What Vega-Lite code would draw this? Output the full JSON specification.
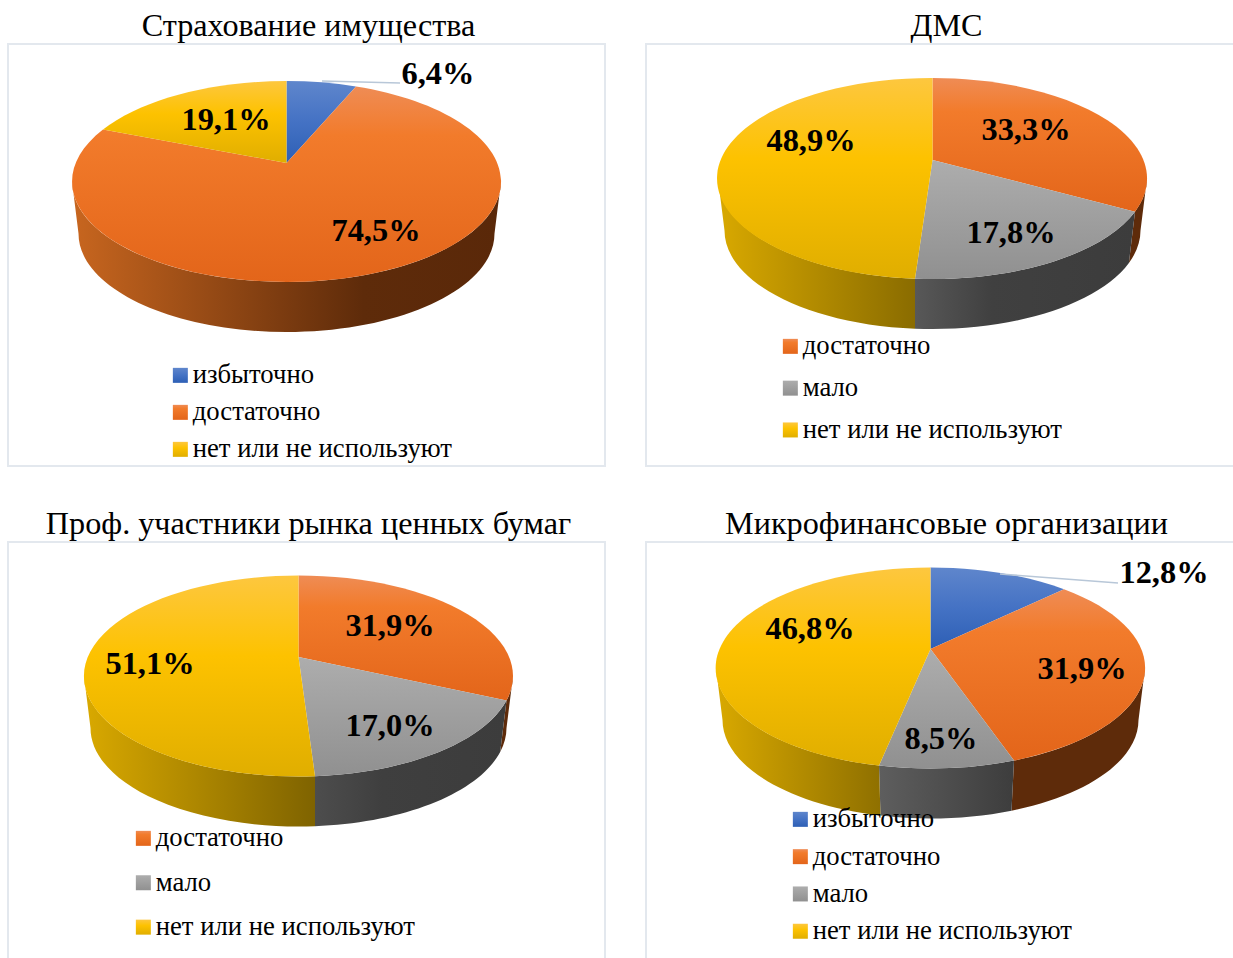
{
"$schema":"https://vega.github.io/schema/vega-lite/v6.json",
"padding":{"left":7,"top":8,"right":0,"bottom":0},
"background":"white",
"params":[
{"name":"gBlue","value":{"gradient":"linear","x1":0,"y1":0,"x2":0,"y2":1,"stops":[{"offset":0,"color":"#5f86cc"},{"offset":0.5,"color":"#4472c4"},{"offset":1,"color":"#2d5fb5"}]}},
{"name":"gOrange","value":{"gradient":"linear","x1":0,"y1":0,"x2":0,"y2":1,"stops":[{"offset":0,"color":"#ef8c55"},{"offset":0.25,"color":"#f27b2b"},{"offset":1,"color":"#e3651a"}]}},
{"name":"gGray","value":{"gradient":"linear","x1":0,"y1":0,"x2":0,"y2":1,"stops":[{"offset":0,"color":"#adadad"},{"offset":1,"color":"#909090"}]}},
{"name":"gYellow","value":{"gradient":"linear","x1":0,"y1":0,"x2":0,"y2":1,"stops":[{"offset":0,"color":"#fdc73f"},{"offset":0.4,"color":"#fdc200"},{"offset":1,"color":"#e0ae00"}]}}
],
"config":{"view":{"stroke":"#e3e8ee","strokeWidth":2,"fill":"white"},
"title":{"font":"Liberation Serif","fontSize":32.2,"fontWeight":"normal","color":"#000000","anchor":"middle","offset":1,"dx":2},
"legend":{"orient":"none","title":null,"labelFont":"Liberation Serif","labelFontSize":26.7,"labelColor":"#000000","labelOffset":-1,"labelLimit":500,"padding":0,"symbolStrokeWidth":0},
"text":{"font":"Liberation Serif","fontSize":32.4,"fontWeight":"bold","color":"#000000","baseline":"middle","align":"center"}},
"columns":2,
"spacing":{"column":39,"row":39},
"resolve":{"scale":{"color":"independent"}},
"concat":[
{"title":"Страхование имущества","width":597,"height":422,
"data":{"values":[{"panel":"Страхование имущества","category":"избыточно","pct":6.4,"label":"6,4%"},{"panel":"Страхование имущества","category":"достаточно","pct":74.5,"label":"74,5%"},{"panel":"Страхование имущества","category":"нет или не используют","pct":19.1,"label":"19,1%"}]},
"encoding":{"x":{"field":"panel","type":"nominal","axis":null},"y":{"field":"panel","type":"nominal","axis":null}},
"layer":[
{"transform":[{"filter":"datum.category==='достаточно'"}],"mark":{"type":"point","filled":true,"opacity":1,"size":4,"strokeWidth":0,"xOffset":-20,"yOffset":-73.5,"shape":"M-214.5,0 A214.5,100.5 0 0 0 214.5,0 L208,52 A208,98.5 0 0 1 -208,52 Z","fill":{"gradient":"linear","x1":0,"y1":0,"x2":1,"y2":0,"stops":[{"offset":0,"color":"#c8661f"},{"offset":0.68,"color":"#5e2b0a"},{"offset":1,"color":"#5a2809"}]}}},
{"encoding":{"color":{"field":"category","type":"nominal","scale":{"domain":["избыточно","достаточно","нет или не используют"],"range":[{"expr":"gBlue"},{"expr":"gOrange"},{"expr":"gYellow"}]},"legend":{"symbolType":"square","symbolSize":225,"legendX":159,"legendY":318,"rowPadding":9}}},
"layer":[
{"transform":[{"filter":"datum.category==='избыточно'"}],"mark":{"type":"point","filled":true,"opacity":1,"size":4,"strokeWidth":0,"xOffset":-20,"yOffset":-73.5,"shape":"M0,-18.5 L0,-100.5 A214.5,100.5 0 0 1 69.5,-95.1 Z"}},
{"transform":[{"filter":"datum.category==='достаточно'"}],"mark":{"type":"point","filled":true,"opacity":1,"size":4,"strokeWidth":0,"xOffset":-20,"yOffset":-73.5,"shape":"M0,-18.5 L69.5,-95.1 A214.5,100.5 0 1 1 -183.5,-52 Z"}},
{"transform":[{"filter":"datum.category==='нет или не используют'"}],"mark":{"type":"point","filled":true,"opacity":1,"size":4,"strokeWidth":0,"xOffset":-20,"yOffset":-73.5,"shape":"M0,-18.5 L-183.5,-52 A214.5,100.5 0 0 1 0,-100.5 Z"}}
]},
{"transform":[{"filter":"datum.category==='избыточно'"}],"mark":{"type":"point","filled":false,"opacity":1,"size":4,"stroke":"#b8c7d8","strokeWidth":1.5,"shape":"M15.5,-174 L93.5,-172"}},
{"transform":[{"filter":"datum.category==='избыточно'"}],"mark":{"type":"text","dx":131.5,"dy":-181},"encoding":{"text":{"field":"label"}}},
{"transform":[{"filter":"datum.category==='нет или не используют'"}],"mark":{"type":"text","dx":-80.5,"dy":-135},"encoding":{"text":{"field":"label"}}},
{"transform":[{"filter":"datum.category==='достаточно'"}],"mark":{"type":"text","dx":69.5,"dy":-24},"encoding":{"text":{"field":"label"}}}
]},
{"title":"ДМС","width":597,"height":422,
"data":{"values":[{"panel":"ДМС","category":"достаточно","pct":33.3,"label":"33,3%"},{"panel":"ДМС","category":"мало","pct":17.8,"label":"17,8%"},{"panel":"ДМС","category":"нет или не используют","pct":48.9,"label":"48,9%"}]},
"encoding":{"x":{"field":"panel","type":"nominal","axis":null},"y":{"field":"panel","type":"nominal","axis":null}},
"layer":[
{"transform":[{"filter":"datum.category==='достаточно'"}],"mark":{"type":"point","filled":true,"opacity":1,"size":4,"strokeWidth":0,"xOffset":-12,"yOffset":-76.5,"fill":"#5e2b0a","shape":"M214.5,0 A214.5,100.5 0 0 1 202.5,33.2 L196.4,84.5 A208,98.5 0 0 0 208,52 Z"}},
{"transform":[{"filter":"datum.category==='мало'"}],"mark":{"type":"point","filled":true,"opacity":1,"size":4,"strokeWidth":0,"xOffset":-12,"yOffset":-76.5,"shape":"M202.5,33.2 A214.5,100.5 0 0 1 -17.5,100.2 L-17.5,150.15 A208,98.5 0 0 0 196.4,84.5 Z","fill":{"gradient":"linear","x1":0,"y1":0,"x2":1,"y2":0,"stops":[{"offset":0,"color":"#585858"},{"offset":0.35,"color":"#404040"},{"offset":1,"color":"#3c3c3c"}]}}},
{"transform":[{"filter":"datum.category==='нет или не используют'"}],"mark":{"type":"point","filled":true,"opacity":1,"size":4,"strokeWidth":0,"xOffset":-12,"yOffset":-76.5,"shape":"M-17.5,100.2 A214.5,100.5 0 0 1 -214.5,0 L-208,52 A208,98.5 0 0 0 -17.5,150.15 Z","fill":{"gradient":"linear","x1":0,"y1":0,"x2":1,"y2":0,"stops":[{"offset":0,"color":"#d9a900"},{"offset":1,"color":"#8a6c00"}]}}},
{"encoding":{"color":{"field":"category","type":"nominal","scale":{"domain":["достаточно","мало","нет или не используют"],"range":[{"expr":"gOrange"},{"expr":"gGray"},{"expr":"gYellow"}]},"legend":{"symbolType":"square","symbolSize":225,"legendX":131,"legendY":289,"rowPadding":13.8}}},
"layer":[
{"transform":[{"filter":"datum.category==='достаточно'"}],"mark":{"type":"point","filled":true,"opacity":1,"size":4,"strokeWidth":0,"xOffset":-12,"yOffset":-76.5,"shape":"M0,-18.5 L0,-100.5 A214.5,100.5 0 0 1 202.5,33.2 Z"}},
{"transform":[{"filter":"datum.category==='мало'"}],"mark":{"type":"point","filled":true,"opacity":1,"size":4,"strokeWidth":0,"xOffset":-12,"yOffset":-76.5,"shape":"M0,-18.5 L202.5,33.2 A214.5,100.5 0 0 1 -17.5,100.2 Z"}},
{"transform":[{"filter":"datum.category==='нет или не используют'"}],"mark":{"type":"point","filled":true,"opacity":1,"size":4,"strokeWidth":0,"xOffset":-12,"yOffset":-76.5,"shape":"M0,-18.5 L-17.5,100.2 A214.5,100.5 0 0 1 0,-100.5 Z"}}
]},
{"transform":[{"filter":"datum.category==='достаточно'"}],"mark":{"type":"text","dx":81.5,"dy":-125},"encoding":{"text":{"field":"label"}}},
{"transform":[{"filter":"datum.category==='мало'"}],"mark":{"type":"text","dx":66.5,"dy":-22},"encoding":{"text":{"field":"label"}}},
{"transform":[{"filter":"datum.category==='нет или не используют'"}],"mark":{"type":"text","dx":-133.5,"dy":-114},"encoding":{"text":{"field":"label"}}}
]},
{"title":"Проф. участники рынка ценных бумаг","width":597,"height":422,
"data":{"values":[{"panel":"Проф. участники рынка ценных бумаг","category":"достаточно","pct":31.9,"label":"31,9%"},{"panel":"Проф. участники рынка ценных бумаг","category":"мало","pct":17.0,"label":"17,0%"},{"panel":"Проф. участники рынка ценных бумаг","category":"нет или не используют","pct":51.1,"label":"51,1%"}]},
"encoding":{"x":{"field":"panel","type":"nominal","axis":null},"y":{"field":"panel","type":"nominal","axis":null}},
"layer":[
{"transform":[{"filter":"datum.category==='достаточно'"}],"mark":{"type":"point","filled":true,"opacity":1,"size":4,"strokeWidth":0,"xOffset":-8,"yOffset":-77,"fill":"#5e2b0a","shape":"M214.5,0 A214.5,100.5 0 0 1 208,24.5 L201.7,76 A208,98.5 0 0 0 208,52 Z"}},
{"transform":[{"filter":"datum.category==='мало'"}],"mark":{"type":"point","filled":true,"opacity":1,"size":4,"strokeWidth":0,"xOffset":-8,"yOffset":-77,"shape":"M208,24.5 A214.5,100.5 0 0 1 16.5,100.2 L16.5,150.2 A208,98.5 0 0 0 201.7,76 Z","fill":{"gradient":"linear","x1":0,"y1":0,"x2":1,"y2":0,"stops":[{"offset":0,"color":"#4d4d4d"},{"offset":0.35,"color":"#3f3f3f"},{"offset":1,"color":"#3c3c3c"}]}}},
{"transform":[{"filter":"datum.category==='нет или не используют'"}],"mark":{"type":"point","filled":true,"opacity":1,"size":4,"strokeWidth":0,"xOffset":-8,"yOffset":-77,"shape":"M16.5,100.2 A214.5,100.5 0 0 1 -214.5,0 L-208,52 A208,98.5 0 0 0 16.5,150.2 Z","fill":{"gradient":"linear","x1":0,"y1":0,"x2":1,"y2":0,"stops":[{"offset":0,"color":"#d9a900"},{"offset":1,"color":"#7f6300"}]}}},
{"encoding":{"color":{"field":"category","type":"nominal","scale":{"domain":["достаточно","мало","нет или не используют"],"range":[{"expr":"gOrange"},{"expr":"gGray"},{"expr":"gYellow"}]},"legend":{"symbolType":"square","symbolSize":225,"legendX":122,"legendY":283,"rowPadding":16.4}}},
"layer":[
{"transform":[{"filter":"datum.category==='достаточно'"}],"mark":{"type":"point","filled":true,"opacity":1,"size":4,"strokeWidth":0,"xOffset":-8,"yOffset":-77,"shape":"M0,-19 L0,-100.5 A214.5,100.5 0 0 1 208,24.5 Z"}},
{"transform":[{"filter":"datum.category==='мало'"}],"mark":{"type":"point","filled":true,"opacity":1,"size":4,"strokeWidth":0,"xOffset":-8,"yOffset":-77,"shape":"M0,-19 L208,24.5 A214.5,100.5 0 0 1 16.5,100.2 Z"}},
{"transform":[{"filter":"datum.category==='нет или не используют'"}],"mark":{"type":"point","filled":true,"opacity":1,"size":4,"strokeWidth":0,"xOffset":-8,"yOffset":-77,"shape":"M0,-19 L16.5,100.2 A214.5,100.5 0 1 1 0,-100.5 Z"}}
]},
{"transform":[{"filter":"datum.category==='достаточно'"}],"mark":{"type":"text","dx":83.5,"dy":-127},"encoding":{"text":{"field":"label"}}},
{"transform":[{"filter":"datum.category==='мало'"}],"mark":{"type":"text","dx":83.5,"dy":-27},"encoding":{"text":{"field":"label"}}},
{"transform":[{"filter":"datum.category==='нет или не используют'"}],"mark":{"type":"text","dx":-156.5,"dy":-89},"encoding":{"text":{"field":"label"}}}
]},
{"title":"Микрофинансовые организации","width":597,"height":422,
"data":{"values":[{"panel":"Микрофинансовые организации","category":"избыточно","pct":12.8,"label":"12,8%"},{"panel":"Микрофинансовые организации","category":"достаточно","pct":31.9,"label":"31,9%"},{"panel":"Микрофинансовые организации","category":"мало","pct":8.5,"label":"8,5%"},{"panel":"Микрофинансовые организации","category":"нет или не используют","pct":46.8,"label":"46,8%"}]},
"encoding":{"x":{"field":"panel","type":"nominal","axis":null},"y":{"field":"panel","type":"nominal","axis":null}},
"layer":[
{"transform":[{"filter":"datum.category==='достаточно'"}],"mark":{"type":"point","filled":true,"opacity":1,"size":4,"strokeWidth":0,"xOffset":-14,"yOffset":-85,"fill":"#5e2b0a","shape":"M214.5,0 A214.5,100.5 0 0 1 83.5,92.6 L81,142.7 A208,98.5 0 0 0 208,52 Z"}},
{"transform":[{"filter":"datum.category==='мало'"}],"mark":{"type":"point","filled":true,"opacity":1,"size":4,"strokeWidth":0,"xOffset":-14,"yOffset":-85,"shape":"M83.5,92.6 A214.5,100.5 0 0 1 -51.5,97.6 L-50,147.6 A208,98.5 0 0 0 81,142.7 Z","fill":{"gradient":"linear","x1":0,"y1":0,"x2":1,"y2":0,"stops":[{"offset":0,"color":"#5e5e5e"},{"offset":1,"color":"#3d3d3d"}]}}},
{"transform":[{"filter":"datum.category==='нет или не используют'"}],"mark":{"type":"point","filled":true,"opacity":1,"size":4,"strokeWidth":0,"xOffset":-14,"yOffset":-85,"shape":"M-51.5,97.6 A214.5,100.5 0 0 1 -214.5,0 L-208,52 A208,98.5 0 0 0 -50,147.6 Z","fill":{"gradient":"linear","x1":0,"y1":0,"x2":1,"y2":0,"stops":[{"offset":0,"color":"#d9a900"},{"offset":1,"color":"#8f7000"}]}}},
{"encoding":{"color":{"field":"category","type":"nominal","scale":{"domain":["избыточно","достаточно","мало","нет или не используют"],"range":[{"expr":"gBlue"},{"expr":"gOrange"},{"expr":"gGray"},{"expr":"gYellow"}]},"legend":{"symbolType":"square","symbolSize":225,"legendX":141,"legendY":264,"rowPadding":9.3}}},
"layer":[
{"transform":[{"filter":"datum.category==='избыточно'"}],"mark":{"type":"point","filled":true,"opacity":1,"size":4,"strokeWidth":0,"xOffset":-14,"yOffset":-85,"shape":"M0,-19 L0,-100.5 A214.5,100.5 0 0 1 133.5,-78.7 Z"}},
{"transform":[{"filter":"datum.category==='достаточно'"}],"mark":{"type":"point","filled":true,"opacity":1,"size":4,"strokeWidth":0,"xOffset":-14,"yOffset":-85,"shape":"M0,-19 L133.5,-78.7 A214.5,100.5 0 0 1 83.5,92.6 Z"}},
{"transform":[{"filter":"datum.category==='мало'"}],"mark":{"type":"point","filled":true,"opacity":1,"size":4,"strokeWidth":0,"xOffset":-14,"yOffset":-85,"shape":"M0,-19 L83.5,92.6 A214.5,100.5 0 0 1 -51.5,97.6 Z"}},
{"transform":[{"filter":"datum.category==='нет или не используют'"}],"mark":{"type":"point","filled":true,"opacity":1,"size":4,"strokeWidth":0,"xOffset":-14,"yOffset":-85,"shape":"M0,-19 L-51.5,97.6 A214.5,100.5 0 0 1 0,-100.5 Z"}}
]},
{"transform":[{"filter":"datum.category==='избыточно'"}],"mark":{"type":"point","filled":false,"opacity":1,"size":4,"stroke":"#b8c7d8","strokeWidth":1.5,"shape":"M55.5,-179 L173.5,-170"}},
{"transform":[{"filter":"datum.category==='избыточно'"}],"mark":{"type":"text","dx":219.5,"dy":-180},"encoding":{"text":{"field":"label"}}},
{"transform":[{"filter":"datum.category==='достаточно'"}],"mark":{"type":"text","dx":137.5,"dy":-84},"encoding":{"text":{"field":"label"}}},
{"transform":[{"filter":"datum.category==='мало'"}],"mark":{"type":"text","dx":-3.5,"dy":-14},"encoding":{"text":{"field":"label"}}},
{"transform":[{"filter":"datum.category==='нет или не используют'"}],"mark":{"type":"text","dx":-134.5,"dy":-124},"encoding":{"text":{"field":"label"}}}
]}
]}
